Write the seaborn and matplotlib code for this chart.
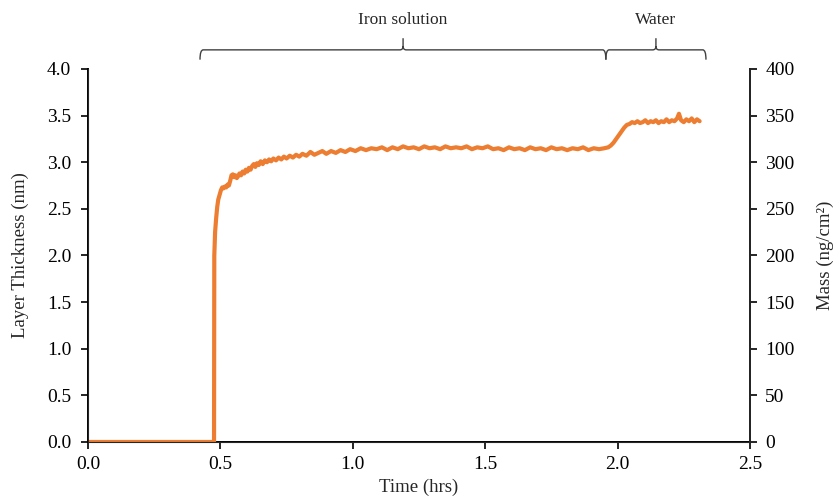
import seaborn as sns
import matplotlib.pyplot as plt
import pandas as pd
from matplotlib.path import Path
from matplotlib.patches import PathPatch

# values (time in hrs, thickness in nm)
time_hrs = [0.00, 0.10, 0.20, 0.30, 0.40, 0.476, 0.477, 0.480, 0.484, 0.488,
            0.492, 0.497, 0.502, 0.507, 0.512, 0.517, 0.522, 0.527, 0.532, 0.537,
            0.542, 0.547, 0.552, 0.557, 0.562, 0.567, 0.572, 0.578, 0.584, 0.590,
            0.596, 0.602, 0.608, 0.614, 0.620, 0.626, 0.632, 0.638, 0.645, 0.652,
            0.660, 0.668, 0.676, 0.684, 0.692, 0.700, 0.710, 0.720, 0.730, 0.740,
            0.750, 0.762, 0.774, 0.786, 0.798, 0.810, 0.825, 0.840, 0.855, 0.870,
            0.885, 0.900, 0.918, 0.936, 0.954, 0.972, 0.990, 1.010, 1.030, 1.050,
            1.070, 1.090, 1.110, 1.130, 1.150, 1.170, 1.190, 1.210, 1.230, 1.250,
            1.270, 1.290, 1.310, 1.330, 1.350, 1.370, 1.390, 1.410, 1.430, 1.450,
            1.470, 1.490, 1.510, 1.530, 1.550, 1.570, 1.590, 1.610, 1.630, 1.650,
            1.670, 1.690, 1.710, 1.730, 1.750, 1.770, 1.790, 1.810, 1.830, 1.850,
            1.870, 1.890, 1.910, 1.930, 1.950, 1.965, 1.975, 1.985, 1.995, 2.005,
            2.015, 2.025, 2.035, 2.045, 2.055, 2.065, 2.075, 2.085, 2.095, 2.105,
            2.115, 2.125, 2.135, 2.145, 2.155, 2.165, 2.175, 2.185, 2.195, 2.205,
            2.215, 2.225, 2.232, 2.240, 2.250, 2.260, 2.270, 2.280, 2.290, 2.300,
            2.310]
thickness_nm = [0.00, 0.00, 0.00, 0.00, 0.00, 0.00, 2.00, 2.25, 2.40, 2.52,
                2.60, 2.65, 2.70, 2.73, 2.72, 2.74, 2.73, 2.76, 2.75, 2.80,
                2.86, 2.87, 2.84, 2.86, 2.83, 2.85, 2.88, 2.86, 2.90, 2.88,
                2.92, 2.90, 2.94, 2.92, 2.96, 2.98, 2.95, 2.99, 2.97, 3.01,
                2.98, 3.02, 3.00, 3.03, 3.01, 3.04, 3.02, 3.05, 3.03, 3.06,
                3.04, 3.07, 3.05, 3.08, 3.06, 3.09, 3.07, 3.11, 3.08, 3.10,
                3.12, 3.09, 3.12, 3.10, 3.13, 3.11, 3.14, 3.12, 3.15, 3.13,
                3.15, 3.14, 3.16, 3.13, 3.16, 3.14, 3.17, 3.15, 3.16, 3.14,
                3.17, 3.15, 3.16, 3.14, 3.17, 3.15, 3.16, 3.15, 3.17, 3.14,
                3.16, 3.15, 3.17, 3.14, 3.15, 3.13, 3.16, 3.14, 3.15, 3.13,
                3.16, 3.14, 3.15, 3.13, 3.16, 3.14, 3.15, 3.13, 3.15, 3.14,
                3.16, 3.13, 3.15, 3.14, 3.15, 3.16, 3.18, 3.21, 3.25, 3.29,
                3.33, 3.37, 3.40, 3.41, 3.43, 3.42, 3.44, 3.42, 3.43, 3.45,
                3.42, 3.44, 3.43, 3.45, 3.42, 3.44, 3.43, 3.46, 3.43, 3.45,
                3.44, 3.47, 3.52, 3.45, 3.43, 3.46, 3.44, 3.47, 3.43, 3.46,
                3.44]

df = pd.DataFrame({"Time (hrs)": time_hrs, "Layer Thickness (nm)": thickness_nm})

sns.set_style("ticks")
plt.rcParams["font.family"] = ["Liberation Serif", "DejaVu Serif"]
plt.rcParams["font.size"] = 13

fig = plt.figure(figsize=(8.35, 4.97), dpi=100)
ax = fig.add_axes([0.1054, 0.1107, 0.7927, 0.7505])

sns.lineplot(data=df, x="Time (hrs)", y="Layer Thickness (nm)", ax=ax,
             color="#ED7D31", linewidth=3.0, zorder=3)

ax.set_xlim(0, 2.5)
ax.set_ylim(0, 4.0)
ax.set_xticks([0.0, 0.5, 1.0, 1.5, 2.0, 2.5])
ax.set_xticklabels(["0.0", "0.5", "1.0", "1.5", "2.0", "2.5"])
ax.set_yticks([0.0, 0.5, 1.0, 1.5, 2.0, 2.5, 3.0, 3.5, 4.0])
ax.set_yticklabels(["0.0", "0.5", "1.0", "1.5", "2.0", "2.5", "3.0", "3.5", "4.0"])
ax.set_xlabel("Time (hrs)", fontsize=13.5, labelpad=4)
ax.set_ylabel("Layer Thickness (nm)", fontsize=13.5, labelpad=13)
ax.tick_params(direction="out", length=5, width=1.2, labelsize=14, colors="black", pad=5)
ax.tick_params(axis="y", pad=7)
ax.spines["top"].set_visible(False)
for s in ["left", "bottom", "right"]:
    ax.spines[s].set_linewidth(1.4)
    ax.spines[s].set_color("black")

ax2 = ax.twinx()
ax2.set_ylim(0, 400)
ax2.set_yticks([0, 50, 100, 150, 200, 250, 300, 350, 400])
ax2.set_ylabel("Mass (ng/cm²)", fontsize=13.5, labelpad=16)
ax2.tick_params(direction="out", length=5, width=1.2, labelsize=14, colors="black", pad=6)
ax2.spines["top"].set_visible(False)
ax2.spines["right"].set_linewidth(1.4)

# brace annotations above the plot
braces = [(0.423, 1.956, 1.19, "Iron solution"), (1.956, 2.334, 2.145, "Water")]
y_end, y_bar, y_peak, y_text = 4.10, 4.205, 4.33, 4.53
dx, dy = 0.012, 0.04
for x0, x1, xm, label in braces:
    verts = [(x0, y_end), (x0, y_bar), (x0 + dx, y_bar),
             (xm - dx, y_bar), (xm, y_bar), (xm, y_bar + dy),
             (xm, y_peak), (xm, y_bar + dy), (xm, y_bar), (xm + dx, y_bar),
             (x1 - dx, y_bar), (x1, y_bar), (x1, y_end)]
    codes = [Path.MOVETO, Path.CURVE3, Path.CURVE3,
             Path.LINETO, Path.CURVE3, Path.CURVE3,
             Path.LINETO, Path.MOVETO, Path.CURVE3, Path.CURVE3,
             Path.LINETO, Path.CURVE3, Path.CURVE3]
    patch = PathPatch(Path(verts, codes), fill=False, edgecolor="#404040",
                      linewidth=1.0, clip_on=False, transform=ax.transData)
    ax.add_patch(patch)
    ax.text(xm, y_text, label, ha="center", va="center", fontsize=12.5,
            clip_on=False)

fig.savefig("out.png", dpi=100)
